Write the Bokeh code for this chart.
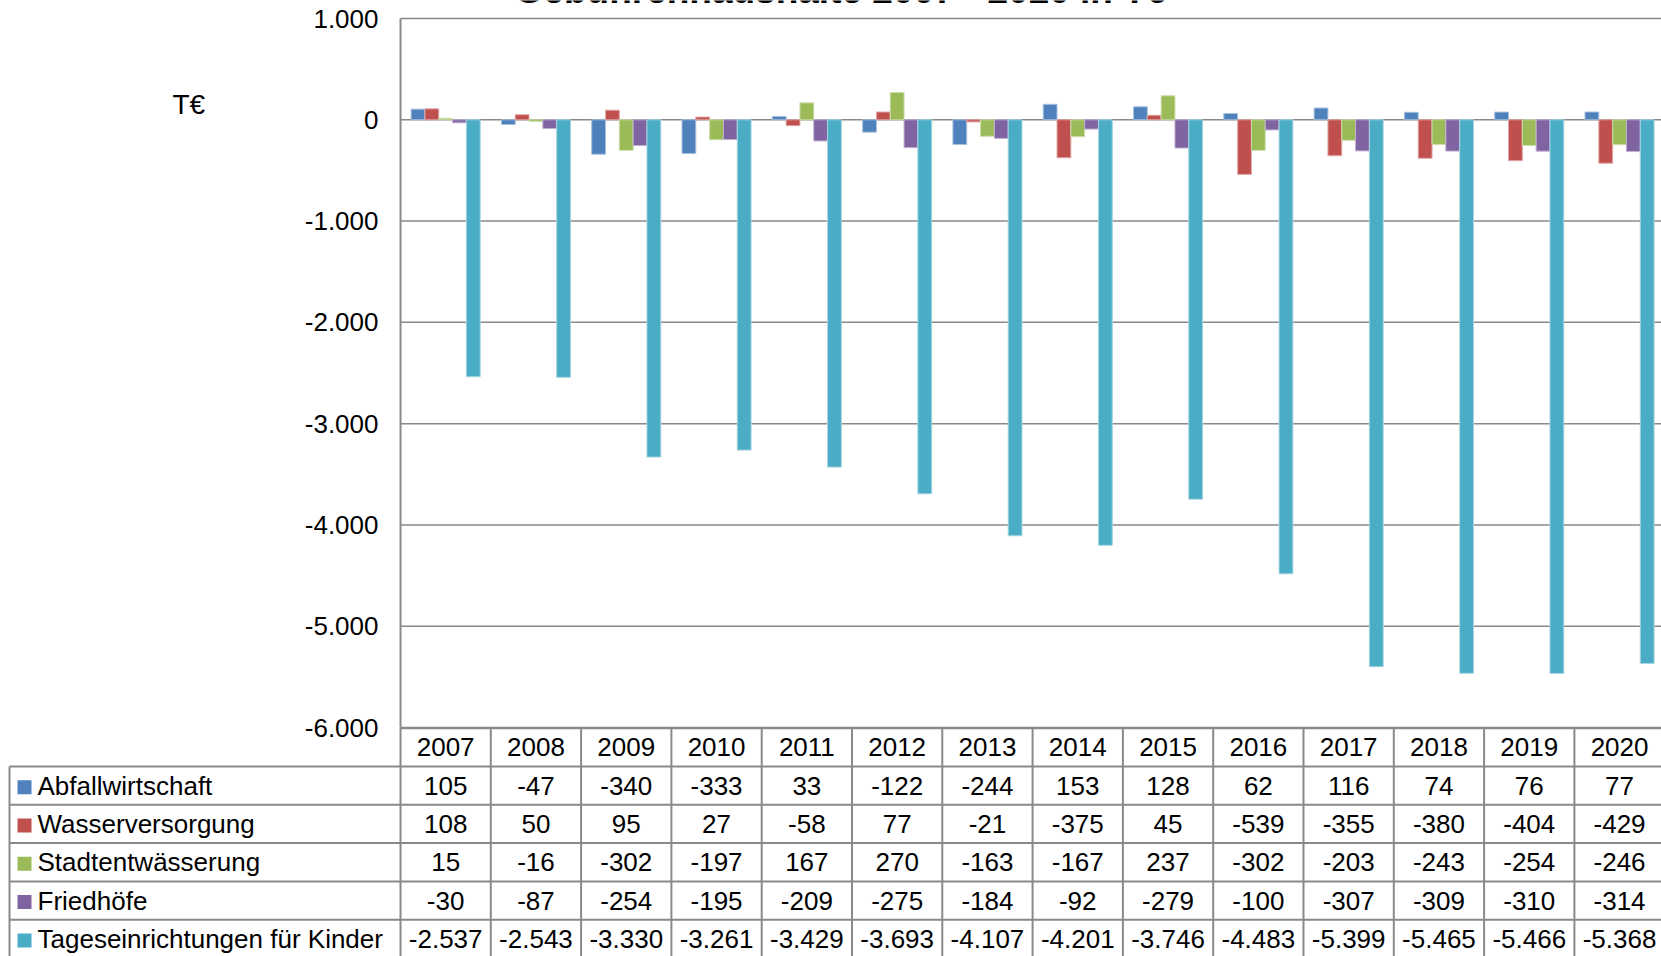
from bokeh.plotting import figure
from bokeh.models import Range1d, ColumnDataSource
from bokeh.core.properties import value
from bokeh.embed import file_html
from bokeh.resources import INLINE

# ---------------- data ----------------
years = ["2007", "2008", "2009", "2010", "2011", "2012", "2013",
         "2014", "2015", "2016", "2017", "2018", "2019", "2020"]
series_names = ["Abfallwirtschaft", "Wasserversorgung", "Stadtentwässerung",
                "Friedhöfe", "Tageseinrichtungen für Kinder"]
abfallwirtschaft = [105, -47, -340, -333, 33, -122, -244, 153, 128, 62, 116, 74, 76, 77]
wasserversorgung = [108, 50, 95, 27, -58, 77, -21, -375, 45, -539, -355, -380, -404, -429]
stadtentwaesserung = [15, -16, -302, -197, 167, 270, -163, -167, 237, -302, -203, -243, -254, -246]
friedhoefe = [-30, -87, -254, -195, -209, -275, -184, -92, -279, -100, -307, -309, -310, -314]
kitas = [-2537, -2543, -3330, -3261, -3429, -3693, -4107, -4201, -3746, -4483,
         -5399, -5465, -5466, -5368]
series_values = [abfallwirtschaft, wasserversorgung, stadtentwaesserung, friedhoefe, kitas]
y_ticks = [1000, 0, -1000, -2000, -3000, -4000, -5000, -6000]
title_text = "Gebührenhaushalte 2007 - 2020 in T€"
unit_text = "T€"

colors = ["#4F81BD", "#C0504D", "#9BBB59", "#8064A2", "#4BACC6"]
edge_colors = ["#A7C0DE", "#E0A8A6", "#CDDDAC", "#BFB1D0", "#A5D5E2"]


def de(v):
    return f"{v:,}".replace(",", ".")


FONT = value("Liberation Sans")
FS = "26px"
GRAY = "#898989"

# ---------------- geometry (window pixels) ----------------
ORG = 0                     # window position of the figure's top-left corner
W, H = 1661, 956            # figure size
COL = 90.3                  # px per year column
X0 = 400                    # window x of plot/table year area
Y_TOP, Y_BOT = 18, 727      # window y of 1.000 and -6.000
ROW = 38.3                  # table row height
ROW0 = 766                  # window y of first data row top
BW = 0.153                  # bar width (column units)
n = len(years)

s = (Y_BOT - Y_TOP) / (y_ticks[0] - y_ticks[-1])   # px per value unit
x_start = (ORG - X0) / COL
x_end = (ORG + W - X0) / COL
v_top = y_ticks[0] + (Y_TOP - ORG) / s
v_bot = y_ticks[-1] - (ORG + H - Y_BOT) / s
r_top = (ORG - ROW0) / ROW
r_bot = (ORG + H - ROW0) / ROW


def vy(wy):
    """value coordinate of a window y position"""
    return y_ticks[0] - (wy - Y_TOP) / s


def cx(wx):
    """column coordinate of a window x position"""
    return (wx - X0) / COL


p = figure(width=W, height=H, title=None,
           x_range=Range1d(x_start, x_end), y_range=Range1d(v_bot, v_top),
           output_backend="svg", toolbar_location=None,
           x_axis_location=None, y_axis_location=None,
           min_border=0, min_border_left=0, min_border_right=0,
           min_border_top=0, min_border_bottom=0,
           outline_line_color=None, background_fill_color="white",
           border_fill_color="white")
p.grid.visible = False
p.extra_y_ranges = {"table": Range1d(r_bot, r_top)}

centers = [i + 0.5 for i in range(n)]

# grid lines (value scale)
p.segment(x0=[0] * len(y_ticks), x1=[x_end + 1] * len(y_ticks), y0=y_ticks, y1=y_ticks,
          line_color=GRAY, line_width=1.5)
# value axis line
p.segment(x0=[0], x1=[0], y0=[y_ticks[0]], y1=[y_ticks[-1]], line_color=GRAY, line_width=2)
# value tick labels
p.text(x=[cx(378)] * len(y_ticks), y=y_ticks, text=[de(t) for t in y_ticks],
       text_font=FONT, text_font_size=FS, text_align="right", text_baseline="middle",
       text_color="black")

# bars
for k, vals in enumerate(series_values):
    src = ColumnDataSource(dict(x=[c + (k - 2) * BW for c in centers], top=vals))
    p.vbar(x="x", top="top", bottom=0, width=BW, source=src,
           fill_color=colors[k], line_color=edge_colors[k], line_width=1)

# title (cut at the top edge as in the reference) and unit
p.text(x=[cx(840)], y=[vy(-10.5)], text=[title_text],
       text_font=FONT, text_font_size="37px", text_font_style="bold",
       text_align="center", text_baseline="alphabetic", text_color="black")
p.text(x=[cx(172)], y=[vy(104)], text=[unit_text],
       text_font=FONT, text_font_size="28px", text_align="left", text_baseline="middle",
       text_color="black")

# ---------------- data table (row scale) ----------------
left_border = cx(9)
# header row
p.segment(x0=[0], x1=[x_end + 1], y0=[-1], y1=[-1], y_range_name="table",
          line_color=GRAY, line_width=2)
p.text(x=centers, y=[-0.5] * n, text=years, y_range_name="table",
       text_font=FONT, text_font_size=FS, text_align="center", text_baseline="middle",
       text_color="black")
# horizontal rules
rows = list(range(len(series_names) + 1))
p.segment(x0=[left_border] * len(rows), x1=[x_end + 1] * len(rows), y0=rows, y1=rows,
          y_range_name="table", line_color=GRAY, line_width=2)
# vertical rules
vx = list(range(n + 1))
p.segment(x0=vx, x1=vx, y0=[-1] * len(vx), y1=[6] * len(vx), y_range_name="table",
          line_color=GRAY, line_width=2)
p.segment(x0=[left_border], x1=[left_border], y0=[0], y1=[6], y_range_name="table",
          line_color=GRAY, line_width=2)

row_c = [k + 0.5 for k in range(len(series_names))]
p.rect(x=[cx(24)] * len(series_names), y=[r + 0.04 for r in row_c],
       width=14, height=14, width_units="screen", height_units="screen",
       fill_color=colors, line_color=None, y_range_name="table")
p.text(x=[cx(37)] * len(series_names), y=row_c, text=series_names,
       y_range_name="table", text_font=FONT, text_font_size=FS, text_align="left",
       text_baseline="middle", text_color="black")

tx, ty, tt = [], [], []
for k, vals in enumerate(series_values):
    for i, v in enumerate(vals):
        tx.append(centers[i])
        ty.append(row_c[k])
        tt.append(de(v))
p.text(x=tx, y=ty, text=tt, y_range_name="table", text_font=FONT, text_font_size=FS,
       text_align="center", text_baseline="middle", text_color="black")

open("out.html", "w").write(file_html(p, INLINE))
